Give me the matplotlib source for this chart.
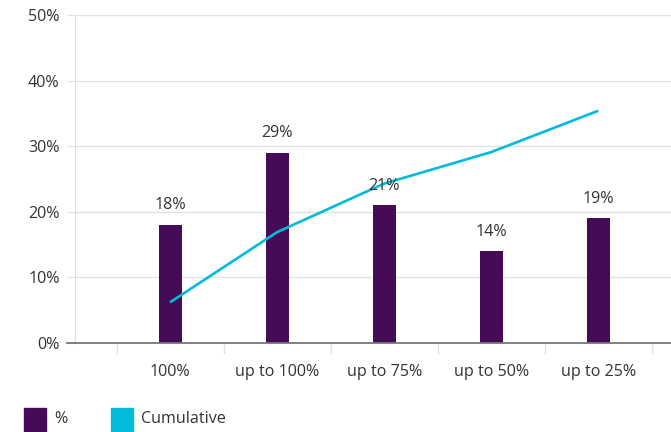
import matplotlib.pyplot as plt
from matplotlib.patches import Rectangle
from matplotlib.ticker import FuncFormatter, FixedLocator

plt.rcParams['font.family'] = ['Open Sans', 'DejaVu Sans']

# data
categories = ["100%", "up to 100%", "up to 75%", "up to 50%", "up to 25%"]
share = [18, 29, 21, 14, 19]
cumulative = [6.2, 16.9, 24.3, 29.1, 35.4]

purple = "#470A57"
cyan = "#00BCD9"
grid_col = "#DDE3E3"
text_col = "#333333"
fs = 11.6

W, H = 671, 432
fig = plt.figure(figsize=(W / 100, H / 100), dpi=100)
ax = fig.add_axes([75 / W, (H - 343) / H, (W - 75) / W, (343 - 15) / H])

x = list(range(len(categories)))
ax.bar(x, share, width=23 / 107, color=purple, zorder=3)
ax.plot(x, cumulative, color=cyan, lw=1.9, zorder=4, solid_capstyle='butt')

for xi, v in zip(x, share):
    ax.annotate(f"{v}%", (xi, v), xytext=(0, 14), textcoords="offset points",
                ha="center", va="center", fontsize=fs, color=text_col, zorder=5)

ax.set_xlim(-0.888, 4.68)
ax.set_ylim(0, 50)
ax.set_yticks([0, 10, 20, 30, 40, 50])
ax.yaxis.set_major_formatter(FuncFormatter(lambda v, p: f"{v:.0f}%"))
ax.grid(axis="y", color=grid_col, lw=1, zorder=0)
ax.tick_params(axis="y", length=6, color=grid_col, pad=5, labelsize=fs, labelcolor=text_col)

ax.set_xticks(x)
ax.set_xticklabels(categories)
ax.xaxis.set_minor_locator(FixedLocator([i - 0.5 for i in range(len(categories) + 1)]))
ax.tick_params(axis="x", which="major", length=0, pad=15, labelsize=fs, labelcolor=text_col)
ax.tick_params(axis="x", which="minor", length=8, color=grid_col, width=1)

for s in ["top", "right"]:
    ax.spines[s].set_visible(False)
ax.spines["left"].set_color(grid_col)
ax.spines["left"].set_zorder(1)
ax.spines["bottom"].set_color("#777777")
ax.spines["bottom"].set_linewidth(1.3)
ax.spines["bottom"].set_zorder(6)
# extend the baseline a little to the left, like the y tick marks
ax.plot([-8 / 596, 0], [0, 0], transform=ax.transAxes, color="#777777", lw=1.3, clip_on=False)

# legend drawn by hand at the bottom
def px(xp, yp):
    return xp / W, 1 - yp / H

for x0, col, label in [(24, purple, "%"), (111, cyan, "Cumulative")]:
    fig.patches.append(Rectangle(px(x0, 432), 22 / W, 24 / H, transform=fig.transFigure,
                                 color=col, zorder=3))
    fig.text(*px(x0 + 30, 419), label, ha="left", va="center", fontsize=fs, color=text_col)

fig.savefig("out.png", dpi=100)
